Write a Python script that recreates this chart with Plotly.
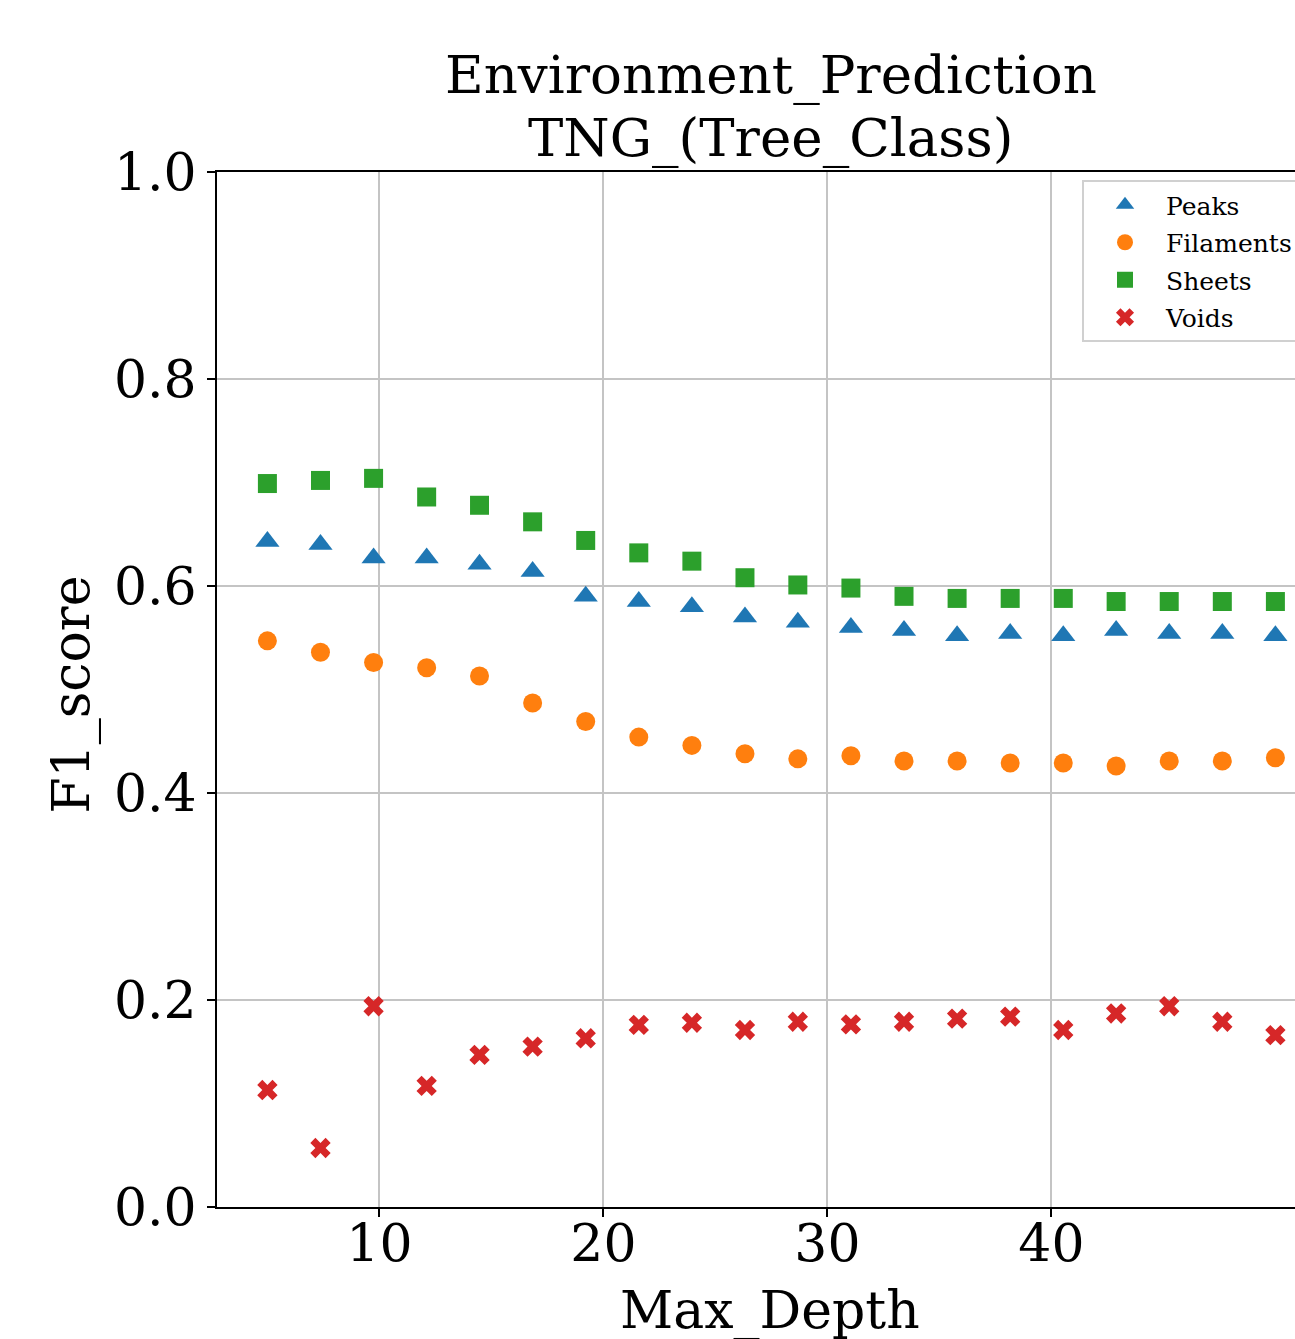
import plotly.graph_objects as go

max_depth = [5.0, 7.37, 9.74, 12.11, 14.47, 16.84, 19.21, 21.58, 23.95, 26.32,
             28.68, 31.05, 33.42, 35.79, 38.16, 40.53, 42.89, 45.26, 47.63, 50.0]
peaks = [0.643, 0.640, 0.627, 0.627, 0.621, 0.614, 0.590, 0.585, 0.580, 0.570,
         0.565, 0.560, 0.557, 0.552, 0.554, 0.552, 0.557, 0.554, 0.554, 0.552]
filaments = [0.547, 0.536, 0.526, 0.521, 0.513, 0.487, 0.469, 0.454, 0.446, 0.438,
             0.433, 0.436, 0.431, 0.431, 0.429, 0.429, 0.426, 0.431, 0.431, 0.434]
sheets = [0.699, 0.702, 0.704, 0.686, 0.678, 0.662, 0.644, 0.632, 0.624, 0.608,
          0.601, 0.598, 0.590, 0.588, 0.588, 0.588, 0.585, 0.585, 0.585, 0.585]
voids = [0.113, 0.057, 0.194, 0.117, 0.147, 0.155, 0.163, 0.176, 0.178, 0.171,
         0.179, 0.1765, 0.179, 0.182, 0.184, 0.171, 0.187, 0.194, 0.179, 0.166]

series_names = ["Peaks", "Filaments", "Sheets", "Voids"]
series_values = [peaks, filaments, sheets, voids]
series_colors = ["#1f77b4", "#ff7f0e", "#2ca02c", "#d62728"]
series_symbols = ["triangle-up", "circle", "square", "x"]
series_sizes = [21, 19, 19, 18]

title_line1 = "Environment_Prediction"
title_line2 = "TNG_(Tree_Class)"
x_label = "Max_Depth"
y_label = "F1_score"
x_ticks = [10, 20, 30, 40]
y_ticks = [0.0, 0.2, 0.4, 0.6, 0.8, 1.0]

FONT = "DejaVu Serif"
W, H = 1295, 1339
ML = 217
MT = 172
PLOT_BOTTOM = 1207
MB = H - PLOT_BOTTOM
PX_PER_UNIT = 22.4
x_min = 2.75
x_max = x_min + (W - ML) / PX_PER_UNIT

def px_x(page_x):
    return page_x - ML

def px_y_from_top(page_y):
    return MT - page_y

fig = go.Figure()
for name, vals, col, sym, sz in zip(series_names, series_values, series_colors,
                                     series_symbols, series_sizes):
    fig.add_trace(go.Scatter(
        x=max_depth, y=vals, mode="markers", name=name, legendgroup=name,
        marker=dict(color=col, symbol=sym, size=sz, line=dict(width=0)),
    ))

axis_common = dict(
    showline=True, linecolor="black", linewidth=2,
    ticks="outside", ticklen=8, tickwidth=2, tickcolor="black",
    showgrid=True, gridcolor="#c4c4c4", gridwidth=2,
    zeroline=False,
    tickfont=dict(family=FONT, size=52, color="black"),
)

plot_h = PLOT_BOTTOM - MT
fig.update_layout(
    width=W, height=H,
    margin=dict(l=ML, r=0, t=MT, b=MB, autoexpand=False),
    plot_bgcolor="white", paper_bgcolor="white",
    font=dict(family=FONT, color="black"),
    xaxis=dict(range=[x_min, x_max], tickvals=x_ticks, mirror=True,
               ticklabelstandoff=-18, **axis_common),
    yaxis=dict(range=[0, 1], tickvals=y_ticks, tickformat=".1f", mirror=False,
               **axis_common),
    showlegend=True,
    legend=dict(
        x=px_x(1082) / (W - ML), y=1 - (180 - 172) / plot_h,
        xanchor="left", yanchor="top",
        bgcolor="rgba(255,255,255,0.8)", bordercolor="#d0d0d0", borderwidth=2,
        font=dict(family=FONT, size=25, color="black"),
        tracegroupgap=2, itemwidth=72,
    ),
    annotations=[
        dict(text=title_line1, xref="paper", yref="paper", x=0, y=1,
             xshift=px_x(771), yshift=px_y_from_top(74), xanchor="center",
             yanchor="middle", showarrow=False,
             font=dict(family=FONT, size=53, color="black")),
        dict(text=title_line2, xref="paper", yref="paper", x=0, y=1,
             xshift=px_x(770), yshift=px_y_from_top(137), xanchor="center",
             yanchor="middle", showarrow=False,
             font=dict(family=FONT, size=53, color="black")),
        dict(text=x_label, xref="paper", yref="paper", x=0, y=0,
             xshift=px_x(770), yshift=-(1310 - PLOT_BOTTOM), xanchor="center",
             yanchor="middle", showarrow=False,
             font=dict(family=FONT, size=52, color="black")),
        dict(text=y_label, xref="paper", yref="paper", x=0, y=0.5,
             xshift=px_x(70), yshift=-5, xanchor="center", yanchor="middle",
             textangle=-90, showarrow=False,
             font=dict(family=FONT, size=52, color="black")),
    ],
)

fig.write_html(
    "out.html",
    config={"displayModeBar": False},
    post_script="document.body.style.margin='0';document.body.style.overflow='hidden';",
)
